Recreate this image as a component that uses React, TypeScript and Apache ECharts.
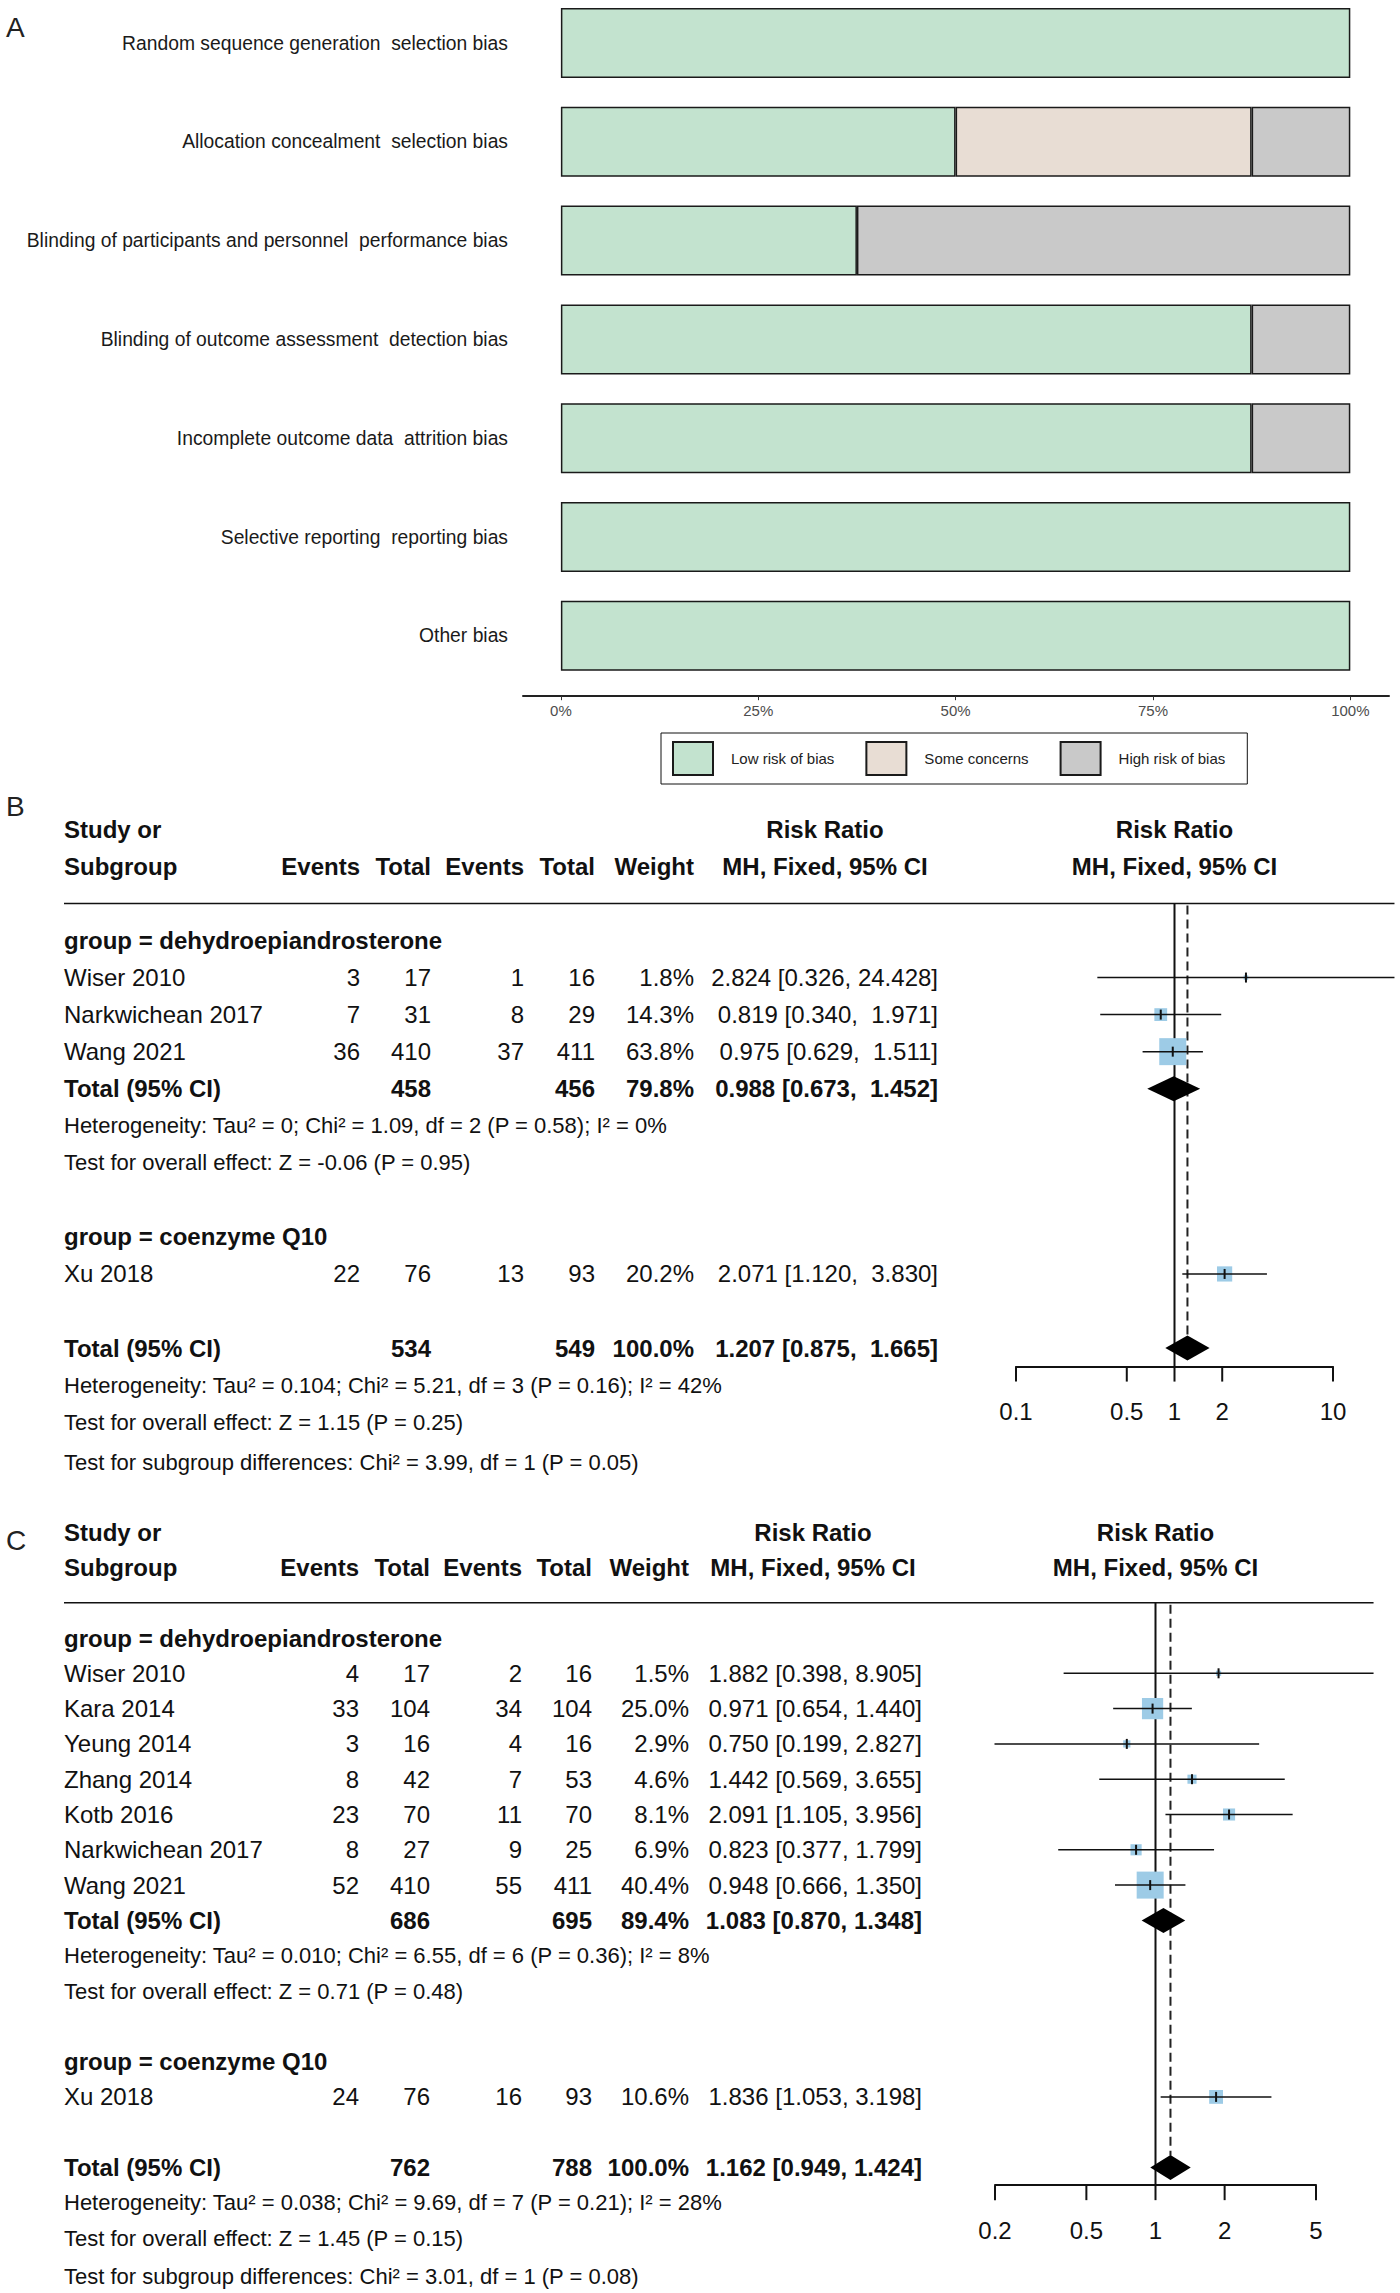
import React, { useEffect, useRef } from "react";
import * as echarts from "echarts";

/* ---------------- Panel A : risk of bias summary ---------------- */
const biasDomains = [
  "Random sequence generation  selection bias",
  "Allocation concealment  selection bias",
  "Blinding of participants and personnel  performance bias",
  "Blinding of outcome assessment  detection bias",
  "Incomplete outcome data  attrition bias",
  "Selective reporting  reporting bias",
  "Other bias",
];
const riskLevels = ["Low risk of bias", "Some concerns", "High risk of bias"];
const lowRisk = [100, 50, 37.5, 87.5, 87.5, 100, 100];
const someConcerns = [0, 37.5, 0, 0, 0, 0, 0];
const highRisk = [0, 12.5, 62.5, 12.5, 12.5, 0, 0];
const percentTicks = [0, 25, 50, 75, 100];

/* ---------------- Panel B ---------------- */
const bGroups = ["group = dehydroepiandrosterone", "group = coenzyme Q10"];
const bStudies = ["Wiser 2010", "Narkwichean 2017", "Wang 2021", "Xu 2018"];
const bStudyGroup = [0, 0, 0, 1];
const bEventsExp = [3, 7, 36, 22];
const bTotalExp = [17, 31, 410, 76];
const bEventsCtl = [1, 8, 37, 13];
const bTotalCtl = [16, 29, 411, 93];
const bWeight = [1.8, 14.3, 63.8, 20.2];
const bRR = [2.824, 0.819, 0.975, 2.071];
const bLower = [0.326, 0.34, 0.629, 1.12];
const bUpper = [24.428, 1.971, 1.511, 3.83];
const bGroupTotalExp = [458, null];
const bGroupTotalCtl = [456, null];
const bGroupWeight = [79.8, null];
const bGroupRR = [0.988, null];
const bGroupLower = [0.673, null];
const bGroupUpper = [1.452, null];
const bGroupHet = ["Heterogeneity: Tau² = 0; Chi² = 1.09, df = 2 (P = 0.58); I² = 0%", null];
const bGroupTest = ["Test for overall effect: Z = -0.06 (P = 0.95)", null];
const bOverallTotals = [534, 549];
const bOverallWeight = 100.0;
const bOverallRR = [1.207, 0.875, 1.665];
const bOverallNotes = [
  "Heterogeneity: Tau² = 0.104; Chi² = 5.21, df = 3 (P = 0.16); I² = 42%",
  "Test for overall effect: Z = 1.15 (P = 0.25)",
  "Test for subgroup differences: Chi² = 3.99, df = 1 (P = 0.05)",
];
const bTicks = [0.1, 0.5, 1, 2, 10];
const bTickLabels = ["0.1", "0.5", "1", "2", "10"];

/* ---------------- Panel C ---------------- */
const cGroups = ["group = dehydroepiandrosterone", "group = coenzyme Q10"];
const cStudies = ["Wiser 2010", "Kara 2014", "Yeung 2014", "Zhang 2014", "Kotb 2016", "Narkwichean 2017", "Wang 2021", "Xu 2018"];
const cStudyGroup = [0, 0, 0, 0, 0, 0, 0, 1];
const cEventsExp = [4, 33, 3, 8, 23, 8, 52, 24];
const cTotalExp = [17, 104, 16, 42, 70, 27, 410, 76];
const cEventsCtl = [2, 34, 4, 7, 11, 9, 55, 16];
const cTotalCtl = [16, 104, 16, 53, 70, 25, 411, 93];
const cWeight = [1.5, 25.0, 2.9, 4.6, 8.1, 6.9, 40.4, 10.6];
const cRR = [1.882, 0.971, 0.75, 1.442, 2.091, 0.823, 0.948, 1.836];
const cLower = [0.398, 0.654, 0.199, 0.569, 1.105, 0.377, 0.666, 1.053];
const cUpper = [8.905, 1.44, 2.827, 3.655, 3.956, 1.799, 1.35, 3.198];
const cGroupTotalExp = [686, null];
const cGroupTotalCtl = [695, null];
const cGroupWeight = [89.4, null];
const cGroupRR = [1.083, null];
const cGroupLower = [0.87, null];
const cGroupUpper = [1.348, null];
const cGroupHet = ["Heterogeneity: Tau² = 0.010; Chi² = 6.55, df = 6 (P = 0.36); I² = 8%", null];
const cGroupTest = ["Test for overall effect: Z = 0.71 (P = 0.48)", null];
const cOverallTotals = [762, 788];
const cOverallWeight = 100.0;
const cOverallRR = [1.162, 0.949, 1.424];
const cOverallNotes = [
  "Heterogeneity: Tau² = 0.038; Chi² = 9.69, df = 7 (P = 0.21); I² = 28%",
  "Test for overall effect: Z = 1.45 (P = 0.15)",
  "Test for subgroup differences: Chi² = 3.01, df = 1 (P = 0.08)",
];
const cTicks = [0.2, 0.5, 1, 2, 5];
const cTickLabels = ["0.2", "0.5", "1", "2", "5"];

/* ---------------- styling ---------------- */
const FONT = "'Liberation Sans', Arial, Helvetica, sans-serif";
const INK = "#111111";
const BOX_BLUE = "#9dcbe6";
const ROB_COLORS = ["#c3e3cf", "#e8ddd4", "#c9c9c9"];

type Panel = {
  groups: string[]; studies: string[]; studyGroup: number[];
  evE: number[]; totE: number[]; evC: number[]; totC: number[];
  weight: number[]; rr: number[]; lo: number[]; hi: number[];
  gTotE: (number | null)[]; gTotC: (number | null)[]; gWeight: (number | null)[];
  gRR: (number | null)[]; gLo: (number | null)[]; gHi: (number | null)[];
  gHet: (string | null)[]; gTest: (string | null)[];
  oTot: number[]; oWeight: number; oRR: number[]; oNotes: string[];
  ticks: number[]; tickLabels: string[];
};

type Cols = { name: number; evE: number; totE: number; evC: number; totC: number; weight: number; ci: number; hdr: number };
type Layout = { row0Y: number; unit: number; left: number; right: number; cols: Cols };

type Cell = { text: string; x: number | "rr"; align: "left" | "right" | "center"; bold?: boolean; size?: number };
type Row = { row: number; cells: Cell[]; rule?: boolean };

const panelB: Panel = {
  groups: bGroups, studies: bStudies, studyGroup: bStudyGroup,
  evE: bEventsExp, totE: bTotalExp, evC: bEventsCtl, totC: bTotalCtl,
  weight: bWeight, rr: bRR, lo: bLower, hi: bUpper,
  gTotE: bGroupTotalExp, gTotC: bGroupTotalCtl, gWeight: bGroupWeight,
  gRR: bGroupRR, gLo: bGroupLower, gHi: bGroupUpper, gHet: bGroupHet, gTest: bGroupTest,
  oTot: bOverallTotals, oWeight: bOverallWeight, oRR: bOverallRR, oNotes: bOverallNotes,
  ticks: bTicks, tickLabels: bTickLabels,
};
const panelC: Panel = {
  groups: cGroups, studies: cStudies, studyGroup: cStudyGroup,
  evE: cEventsExp, totE: cTotalExp, evC: cEventsCtl, totC: cTotalCtl,
  weight: cWeight, rr: cRR, lo: cLower, hi: cUpper,
  gTotE: cGroupTotalExp, gTotC: cGroupTotalCtl, gWeight: cGroupWeight,
  gRR: cGroupRR, gLo: cGroupLower, gHi: cGroupUpper, gHet: cGroupHet, gTest: cGroupTest,
  oTot: cOverallTotals, oWeight: cOverallWeight, oRR: cOverallRR, oNotes: cOverallNotes,
  ticks: cTicks, tickLabels: cTickLabels,
};

const layoutB: Layout = {
  row0Y: 940.5, unit: 37.05, left: 1016, right: 1333,
  cols: { name: 64, evE: 360, totE: 431, evC: 524, totC: 595, weight: 694, ci: 938, hdr: 825 },
};
const layoutC: Layout = {
  row0Y: 1638, unit: 35.3, left: 995, right: 1316,
  cols: { name: 64, evE: 359, totE: 430, evC: 522, totC: 592, weight: 689, ci: 922, hdr: 813 },
};

function buildForest(p: Panel, cols: Cols) {
  const his: number[] = [...p.hi, p.oRR[2]];
  p.gHi.forEach((v) => { if (v != null) his.push(v); });
  const W = Math.max(...his.map((v) => v.toFixed(3).length));
  const ci = (r: number, l: number, h: number) => `${r.toFixed(3)} [${l.toFixed(3)}, ${h.toFixed(3).padStart(W, " ")}]`;
  const pct = (w: number) => `${w.toFixed(1)}%`;

  const rows: Row[] = [];
  const marks: number[][] = [];
  const diamonds: number[][] = [];
  rows.push({ row: -3, cells: [
    { text: "Study or", x: cols.name, align: "left", bold: true },
    { text: "Risk Ratio", x: cols.hdr, align: "center", bold: true },
    { text: "Risk Ratio", x: "rr", align: "center", bold: true },
  ] });
  rows.push({ row: -2, cells: [
    { text: "Subgroup", x: cols.name, align: "left", bold: true },
    { text: "Events", x: cols.evE, align: "right", bold: true },
    { text: "Total", x: cols.totE, align: "right", bold: true },
    { text: "Events", x: cols.evC, align: "right", bold: true },
    { text: "Total", x: cols.totC, align: "right", bold: true },
    { text: "Weight", x: cols.weight, align: "right", bold: true },
    { text: "MH, Fixed, 95% CI", x: cols.hdr, align: "center", bold: true },
    { text: "MH, Fixed, 95% CI", x: "rr", align: "center", bold: true },
  ] });
  rows.push({ row: -1, cells: [], rule: true });

  let r = 0;
  p.groups.forEach((g, gi) => {
    rows.push({ row: r, cells: [{ text: g, x: cols.name, align: "left", bold: true }] });
    r++;
    p.studies.forEach((s, i) => {
      if (p.studyGroup[i] !== gi) return;
      rows.push({ row: r, cells: [
        { text: s, x: cols.name, align: "left" },
        { text: String(p.evE[i]), x: cols.evE, align: "right" },
        { text: String(p.totE[i]), x: cols.totE, align: "right" },
        { text: String(p.evC[i]), x: cols.evC, align: "right" },
        { text: String(p.totC[i]), x: cols.totC, align: "right" },
        { text: pct(p.weight[i]), x: cols.weight, align: "right" },
        { text: ci(p.rr[i], p.lo[i], p.hi[i]), x: cols.ci, align: "right" },
      ] });
      marks.push([p.rr[i], r, p.lo[i], p.hi[i], p.weight[i]]);
      r++;
    });
    const tE = p.gTotE[gi];
    if (tE != null) {
      rows.push({ row: r, cells: [
        { text: "Total (95% CI)", x: cols.name, align: "left", bold: true },
        { text: String(tE), x: cols.totE, align: "right", bold: true },
        { text: String(p.gTotC[gi]), x: cols.totC, align: "right", bold: true },
        { text: pct(p.gWeight[gi] as number), x: cols.weight, align: "right", bold: true },
        { text: ci(p.gRR[gi] as number, p.gLo[gi] as number, p.gHi[gi] as number), x: cols.ci, align: "right", bold: true },
      ] });
      diamonds.push([p.gRR[gi] as number, r, p.gLo[gi] as number, p.gHi[gi] as number]);
      r++;
      rows.push({ row: r, cells: [{ text: p.gHet[gi] as string, x: cols.name, align: "left", size: 22 }] });
      r++;
      rows.push({ row: r, cells: [{ text: p.gTest[gi] as string, x: cols.name, align: "left", size: 22 }] });
      r++;
    }
    r++;
  });
  const overallRow = r;
  rows.push({ row: r, cells: [
    { text: "Total (95% CI)", x: cols.name, align: "left", bold: true },
    { text: String(p.oTot[0]), x: cols.totE, align: "right", bold: true },
    { text: String(p.oTot[1]), x: cols.totC, align: "right", bold: true },
    { text: pct(p.oWeight), x: cols.weight, align: "right", bold: true },
    { text: ci(p.oRR[0], p.oRR[1], p.oRR[2]), x: cols.ci, align: "right", bold: true },
  ] });
  diamonds.push([p.oRR[0], r, p.oRR[1], p.oRR[2]]);
  rows.push({ row: r + 1, cells: [{ text: p.oNotes[0], x: cols.name, align: "left", size: 22 }] });
  rows.push({ row: r + 2, cells: [{ text: p.oNotes[1], x: cols.name, align: "left", size: 22 }] });
  rows.push({ row: r + 3.1, cells: [{ text: p.oNotes[2], x: cols.name, align: "left", size: 22 }] });
  const maxW = Math.max(...p.weight);
  const maxHi = Math.max(...p.hi);
  return { rows, marks, diamonds, overallRow, maxW, maxHi };
}

function forestParts(p: Panel, L: Layout, idx: number) {
  const f = buildForest(p, L.cols);
  const yMax = f.overallRow + 0.5;
  const grid = {
    left: L.left, width: L.right - L.left,
    top: L.row0Y - L.unit, height: (yMax + 1) * L.unit,
    outerBoundsMode: "none", containLabel: false,
  };
  const xAxis = {
    gridIndex: idx, type: "log", logBase: 10, min: p.ticks[0], max: p.ticks[p.ticks.length - 1],
    axisLine: { show: true, onZero: false, lineStyle: { color: INK, width: 2 } },
    axisTick: { show: false }, axisLabel: { show: false }, splitLine: { show: false },
  };
  const yAxis = {
    gridIndex: idx, type: "value", inverse: true, min: -1, max: yMax,
    show: false, splitLine: { show: false },
  };
  const base = { type: "custom", coordinateSystem: "cartesian2d", xAxisIndex: idx, yAxisIndex: idx, clip: false, silent: true, encode: { x: 0, y: 1 } };
  const font = (bold: boolean | undefined, size: number | undefined) => `${bold ? "bold " : ""}${size || 24}px ${FONT}`;

  const series: any[] = [
    {
      ...base, z: 2,
      data: [[1, -1, p.oRR[0], f.overallRow, yMax]],
      renderItem: (params: any, api: any) => {
        const top = api.coord([1, api.value(1)]);
        const bot = api.coord([1, api.value(4)]);
        const d0 = api.coord([api.value(2), api.value(1)]);
        const d1 = api.coord([api.value(2), api.value(3)]);
        return {
          type: "group", children: [
            { type: "line", shape: { x1: top[0], y1: top[1], x2: bot[0], y2: bot[1] }, style: { stroke: INK, lineWidth: 2 } },
            { type: "line", shape: { x1: d0[0], y1: d0[1] + 2, x2: d1[0], y2: d1[1] - 12 }, style: { stroke: "#222", lineWidth: 2, lineDash: [9, 5] } },
          ],
        };
      },
    },
    {
      ...base, z: 3,
      data: f.marks,
      renderItem: (params: any, api: any) => {
        const c = api.coord([api.value(0), api.value(1)]);
        const l = api.coord([api.value(2), api.value(1)]);
        const h = api.coord([api.value(3), api.value(1)]);
        const side = 27 * Math.sqrt(api.value(4) / f.maxW);
        return {
          type: "group", children: [
            { type: "rect", shape: { x: c[0] - side / 2, y: c[1] - side / 2, width: side, height: side }, style: { fill: BOX_BLUE } },
            { type: "line", shape: { x1: l[0], y1: c[1], x2: h[0], y2: c[1] }, style: { stroke: INK, lineWidth: 1.5 } },
            { type: "line", shape: { x1: c[0], y1: c[1] - 5, x2: c[0], y2: c[1] + 5 }, style: { stroke: INK, lineWidth: 2 } },
          ],
        };
      },
    },
    {
      ...base, z: 4,
      data: f.diamonds,
      renderItem: (params: any, api: any) => {
        const c = api.coord([api.value(0), api.value(1)]);
        const l = api.coord([api.value(2), api.value(1)]);
        const h = api.coord([api.value(3), api.value(1)]);
        const hh = 12.5;
        return {
          type: "polygon",
          shape: { points: [[l[0], c[1]], [c[0], c[1] - hh], [h[0], c[1]], [c[0], c[1] + hh]] },
          style: { fill: "#000" },
        };
      },
    },
    {
      ...base, z: 5,
      data: p.ticks.map((v) => [v, yMax]),
      renderItem: (params: any, api: any) => {
        const q = api.coord([api.value(0), api.value(1)]);
        return {
          type: "group", children: [
            { type: "line", shape: { x1: q[0], y1: q[1], x2: q[0], y2: q[1] + 15 }, style: { stroke: INK, lineWidth: 2 } },
            { type: "text", x: q[0], y: q[1] + 45, style: { text: p.tickLabels[params.dataIndex], textAlign: "center", textVerticalAlign: "middle", font: `24px ${FONT}`, fill: INK } },
          ],
        };
      },
    },
    {
      ...base, z: 5,
      data: f.rows.map((e) => [1, e.row]),
      renderItem: (params: any, api: any) => {
        const e = f.rows[params.dataIndex];
        const b = api.coord([1, e.row]);
        const children: any[] = e.cells.map((c) => ({
          type: "text", x: c.x === "rr" ? b[0] : c.x, y: b[1],
          style: { text: c.text, textAlign: c.align, textVerticalAlign: "middle", font: font(c.bold, c.size), fill: INK },
        }));
        if (e.rule) {
          const rEnd = api.coord([f.maxHi, e.row]);
          children.push({ type: "line", shape: { x1: L.cols.name, y1: b[1], x2: rEnd[0], y2: b[1] }, style: { stroke: INK, lineWidth: 1.5 } });
        }
        return { type: "group", children };
      },
    },
  ];
  return { grid, xAxis, yAxis, series };
}

function buildOption() {
  const fb = forestParts(panelB, layoutB, 1);
  const fc = forestParts(panelC, layoutC, 2);
  const robValues = [lowRisk, someConcerns, highRisk];
  const barSeries = riskLevels.map((name, i) => ({
    type: "bar", name, stack: "rob", xAxisIndex: 0, yAxisIndex: 0, barWidth: 70, silent: true,
    data: robValues[i].map((v) => (v > 0 ? v : null)),
    itemStyle: { color: ROB_COLORS[i], borderColor: "#1a1a1a", borderWidth: 1.5 },
  }));
  return {
    animation: false,
    backgroundColor: "#ffffff",
    grid: [
      { left: 523, width: 866, top: -6.4, height: 691.6, outerBoundsMode: "none", containLabel: false },
      fb.grid,
      fc.grid,
    ],
    xAxis: [
      {
        gridIndex: 0, type: "value", min: -4.8, max: 104.9, offset: 11,
        axisLine: { show: true, onZero: false, lineStyle: { color: "#222", width: 2 } },
        axisTick: { show: true, customValues: percentTicks, length: 4, lineStyle: { color: "#333", width: 1 } },
        axisLabel: { show: true, customValues: percentTicks, formatter: (v: number) => `${v}%`, fontSize: 15, fontFamily: FONT, color: "#4d4d4d", margin: 7 },
        splitLine: { show: false },
      },
      fb.xAxis,
      fc.xAxis,
    ],
    yAxis: [
      {
        gridIndex: 0, type: "category", data: biasDomains, inverse: true,
        axisLine: { show: false }, axisTick: { show: false },
        axisLabel: { fontSize: 19.3, fontFamily: FONT, color: "#1a1a1a", margin: 15 },
        splitLine: { show: false },
      },
      fb.yAxis,
      fc.yAxis,
    ],
    legend: {
      data: riskLevels, left: 661, top: 733, orient: "horizontal",
      itemWidth: 40, itemHeight: 33, itemGap: 31, padding: [8, 22, 8, 11],
      borderColor: "#111", borderWidth: 1, icon: "rect", selectedMode: false,
      textStyle: { fontSize: 15, fontFamily: FONT, color: "#222", padding: [0, 0, 0, 13] },
    },
    graphic: [
      { type: "text", x: 6, y: 27, style: { text: "A", font: `28px ${FONT}`, fill: "#222", textVerticalAlign: "middle" } },
      { type: "text", x: 6, y: 806, style: { text: "B", font: `28px ${FONT}`, fill: "#222", textVerticalAlign: "middle" } },
      { type: "text", x: 6, y: 1540, style: { text: "C", font: `28px ${FONT}`, fill: "#222", textVerticalAlign: "middle" } },
    ],
    series: [...barSeries, ...fb.series, ...fc.series],
  };
}

export default function App() {
  const ref = useRef<HTMLDivElement>(null);
  useEffect(() => {
    document.body.style.margin = "0";
    const chart = echarts.init(ref.current as HTMLDivElement, null, { renderer: "svg" });
    chart.setOption(buildOption() as any);
    return () => chart.dispose();
  }, []);
  return <div ref={ref} style={{ width: 1400, height: 2293 }} />;
}
